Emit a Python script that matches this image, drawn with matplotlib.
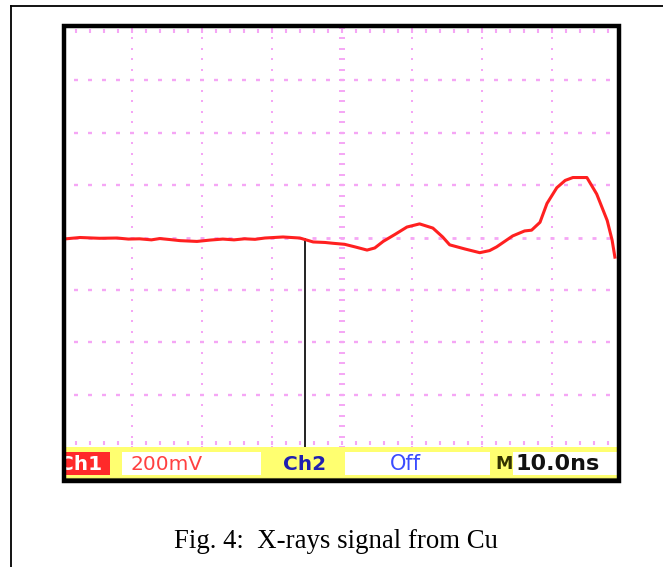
import matplotlib
matplotlib.use("Agg")
import matplotlib.pyplot as plt
import numpy as np
from matplotlib.lines import Line2D
from matplotlib.patches import Rectangle

# ---- data (time in ns, signal in mV) ----
t_ns = [0.6, 2.6, 5.4, 7.9, 9.5, 11.1, 12.8, 14.0, 15.5, 16.9, 19.3, 21.1, 23.0,
        24.6, 26.1, 27.6, 29.0, 31.6, 34.0, 35.9, 37.6, 38.7, 40.4, 41.9, 43.6,
        44.7, 45.9, 47.6, 49.3, 51.1, 53.0, 54.4, 55.4, 57.6, 59.7, 61.1, 62.1,
        64.4, 66.1, 67.1, 68.3, 69.3, 70.7, 71.9, 73.0, 75.0, 76.4, 77.9, 78.6, 79.0]
v_mV = [-5, 0, -3, -2, -6, -5, -9, -4, -8, -12, -15, -10, -6,
        -9, -5, -7, -2, 2, -2, -17, -19, -22, -26, -36, -48,
        -40, -15, 12, 40, 52, 36, 2, -28, -44, -58, -50, -36,
        6, 25, 28, 58, 130, 190, 218, 229, 229, 166, 65, -10, -75]
cursor_ns = 34.7
cursor_top_mV = -4
grid_ns = [10, 20, 30, 40, 50, 60, 70]
grid_mV = [-600, -400, -200, 0, 200, 400, 600]
status_labels = ["Ch1", "200mV", "Ch2", "Off", "M", "10.0ns"]
caption = "Fig. 4:  X-rays signal from Cu"

W, H = 663, 567
fig = plt.figure(figsize=(W / 100, H / 100), dpi=100)
fig.patch.set_facecolor("white")


def px_axes(x0, y0, x1, y1, **kw):
    return fig.add_axes([x0 / W, 1 - y1 / H, (x1 - x0) / W, (y1 - y0) / H], **kw)


# outer thin frame
fig.add_artist(Line2D([11 / W, 1.0], [1 - 6 / H, 1 - 6 / H], color="black", lw=1.3))
fig.add_artist(Line2D([11 / W, 11 / W], [0, 1 - 6 / H], color="black", lw=1.3))

# ---- scope screen ----
ax = px_axes(66, 28, 617, 447)
ax.set_xlim(0.6, 79.3)
ax.set_ylim(-800, 800)
ax.set_axis_off()

pink = "#f5a6f5"
ydots = np.arange(-800, 801, 40)
xdots = np.arange(0, 80, 2)
for g in grid_ns:
    if g == 40:
        ax.plot([g] * len(ydots), ydots, ls="none", marker="_", ms=5, mew=1.4, color=pink)
    else:
        ax.plot([g] * len(ydots), ydots, ls="none", marker="s", ms=1.9, mew=0, color=pink)
for g in grid_mV:
    if g == 0:
        ax.plot(xdots, [g] * len(xdots), ls="none", marker="_", ms=3.5, mew=2.0, color=pink)
    else:
        ax.plot(xdots, [g] * len(xdots), ls="none", marker="_", ms=2.5, mew=1.7, color=pink)
# edge ticks
ax.plot(xdots, [790] * len(xdots), ls="none", marker="|", ms=3, mew=1.5, color=pink)
ax.plot(xdots, [-785] * len(xdots), ls="none", marker="|", ms=3, mew=1.5, color=pink)

# cursor
ax.plot([cursor_ns, cursor_ns], [cursor_top_mV, -800], color="#222222", lw=1.4)
# trace
ax.plot(t_ns, v_mV, color="#ff2020", lw=2.2, solid_joinstyle="round")

# ---- status bar ----
sb = px_axes(66, 447, 617, 479)
sb.set_xlim(66, 617)
sb.set_ylim(479, 447)
sb.set_axis_off()
sb.add_patch(Rectangle((66, 447), 551, 32, color="#ffff70", lw=0))
sb.add_patch(Rectangle((66, 452), 44, 23, color="#ff2a2a", lw=0))
sb.add_patch(Rectangle((122, 452), 139, 23, color="white", lw=0))
sb.add_patch(Rectangle((345, 452), 145, 23, color="white", lw=0))
sb.add_patch(Rectangle((513, 452), 104, 23, color="white", lw=0))
sb.plot([66, 617], [478.5, 478.5], color="#6b6b30", lw=1.5)

fs = 14.5
sb.text(59, 464, status_labels[0], color="white", fontsize=fs, fontweight="bold",
        ha="left", va="center", clip_on=True)
sb.text(130, 464, status_labels[1], color="#ff4040", fontsize=fs, ha="left", va="center")
sb.text(283, 464, status_labels[2], color="#2020b0", fontsize=fs, fontweight="bold",
        ha="left", va="center")
sb.text(390, 464, status_labels[3], color="#3a4cff", fontsize=fs + 0.5,
        ha="left", va="center")
sb.text(495, 464, status_labels[4], color="#333300", fontsize=fs - 2, fontweight="bold",
        ha="left", va="center")
sb.text(515, 464, status_labels[5], color="#111111", fontsize=16, fontweight="bold",
        ha="left", va="center", clip_on=True)

# thick black frame around screen
fig.add_artist(Rectangle((64 / W, 1 - 481 / H), (619 - 64) / W, (481 - 26) / H,
                         fill=False, ec="black", lw=3.2, transform=fig.transFigure))

fig.text(336 / W, 1 - 541 / H, caption, ha="center", va="center",
         fontsize=19.3, family="Liberation Serif", color="black")

fig.savefig("out.png", dpi=100)
